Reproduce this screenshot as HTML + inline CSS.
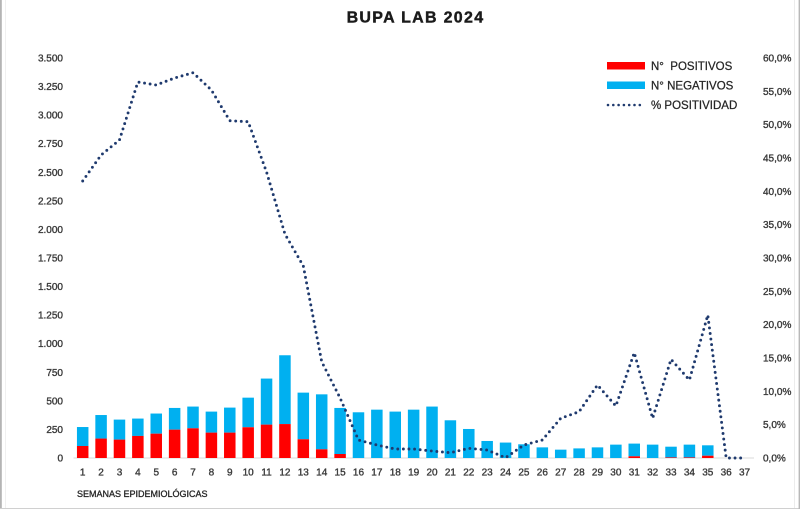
<!DOCTYPE html>
<html>
<head>
<meta charset="utf-8">
<style>
html,body{margin:0;padding:0;background:#fff;}
svg{display:block;}
text{font-family:"Liberation Sans",Arial,sans-serif;}
</style>
</head>
<body>
<svg width="800" height="511" viewBox="0 0 800 511" xmlns="http://www.w3.org/2000/svg">
<rect x="0" y="0" width="800" height="511" fill="#fff"/>
<!-- frame -->
<rect x="0" y="0" width="1.8" height="509" fill="#b4b4b4"/>
<line x1="5.5" y1="0" x2="5.5" y2="508" stroke="#f0f0f0" stroke-width="1"/>
<line x1="0" y1="508.5" x2="800" y2="508.5" stroke="#d0d0d0" stroke-width="1"/>
<line x1="794.5" y1="0" x2="794.5" y2="508" stroke="#ececec" stroke-width="1"/>
<line x1="799.3" y1="0" x2="799.3" y2="509" stroke="#b8b8b8" stroke-width="1.4"/>

<!-- title -->
<text x="415.5" y="22.5" text-anchor="middle" font-size="16" font-weight="bold" letter-spacing="1.3" fill="#1a1a1a" stroke="#1a1a1a" stroke-width="0.4">BUPA LAB 2024</text>

<!-- left axis labels -->
<g font-size="10" fill="#3a3a3a" stroke="#3a3a3a" stroke-width="0.35" text-anchor="end">
<text x="63" y="461.5">0</text>
<text x="63" y="432.9">250</text>
<text x="63" y="404.4">500</text>
<text x="63" y="375.8">750</text>
<text x="63" y="347.2">1.000</text>
<text x="63" y="318.6">1.250</text>
<text x="63" y="290.1">1.500</text>
<text x="63" y="261.5">1.750</text>
<text x="63" y="232.9">2.000</text>
<text x="63" y="204.4">2.250</text>
<text x="63" y="175.8">2.500</text>
<text x="63" y="147.2">2.750</text>
<text x="63" y="118.6">3.000</text>
<text x="63" y="90.1">3.250</text>
<text x="63" y="61.5">3.500</text>
</g>

<!-- right axis labels -->
<g font-size="10" fill="#3a3a3a" stroke="#3a3a3a" stroke-width="0.35" text-anchor="start">
<text x="763" y="461.5">0,0%</text>
<text x="763" y="428.2">5,0%</text>
<text x="763" y="394.8">10,0%</text>
<text x="763" y="361.5">15,0%</text>
<text x="763" y="328.2">20,0%</text>
<text x="763" y="294.8">25,0%</text>
<text x="763" y="261.5">30,0%</text>
<text x="763" y="228.2">35,0%</text>
<text x="763" y="194.8">40,0%</text>
<text x="763" y="161.5">45,0%</text>
<text x="763" y="128.2">50,0%</text>
<text x="763" y="94.8">55,0%</text>
<text x="763" y="61.5">60,0%</text>
</g>

<!-- baseline -->
<line x1="73.5" y1="458" x2="754" y2="458" stroke="#d9d9d9" stroke-width="1"/>

<!-- bars -->
<g id="bars"></g>
<g id="xl" font-size="10" fill="#3a3a3a" stroke="#3a3a3a" stroke-width="0.35" text-anchor="middle"></g>

<!-- line -->
<polyline id="pline" fill="none" stroke="#1f3a6e" stroke-width="2.9" stroke-linecap="round" stroke-linejoin="round" stroke-dasharray="0 5.6" points=""/>

<!-- legend -->
<rect x="607" y="62" width="38" height="7.5" fill="#ff0000"/>
<text x="651" y="70" font-size="11.5" fill="#262626" stroke="#262626" stroke-width="0.25">N°&#160;&#160;POSITIVOS</text>
<rect x="607" y="81.5" width="38" height="7.5" fill="#00b0f0"/>
<text x="651" y="89.5" font-size="11.5" fill="#262626" stroke="#262626" stroke-width="0.25">N° NEGATIVOS</text>
<line x1="608" y1="105" x2="645" y2="105" stroke="#1f3a6e" stroke-width="2.6" stroke-linecap="round" stroke-dasharray="0 5.3"/>
<text x="651" y="109" font-size="11.5" fill="#262626" stroke="#262626" stroke-width="0.25">% POSITIVIDAD</text>

<!-- x axis title -->
<text x="77" y="497" font-size="9" fill="#262626" stroke="#262626" stroke-width="0.3">SEMANAS EPIDEMIOLÓGICAS</text>

<script>
(function(){
var NS="http://www.w3.org/2000/svg";
var pos=[105,170,161,193,213,248,260,222,222,269,292,297,164,76,35,0,0,0,0,0,0,0,0,0,0,0,0,0,0,0,15,0,5,5,20,0,0];
var tot=[271,376,336,345,389,438,450,406,441,528,695,899,572,557,438,400,423,406,423,450,330,254,149,135,120,93,73,84,93,117,126,117,99,117,111,0,0];
var ly=[181,155,140,82,85,78,72.7,90,120.7,121.7,172,234,266,361.7,398,440,445,449,449,451,452.7,448.3,450,457.7,445,440,418.3,411.7,385,406,352.7,418.3,359.3,380,315,458,458];
var k=400/3500, base=458, x0=82.7, dx=18.385, bw=11.5;
var g=document.getElementById("bars"), xl=document.getElementById("xl");
var pts=[];
for(var i=0;i<37;i++){
  var cx=x0+i*dx;
  if(tot[i]>0){
    var neg=tot[i]-pos[i];
    var hp=pos[i]*k, hn=neg*k;
    var r1=document.createElementNS(NS,"rect");
    r1.setAttribute("x",(cx-bw/2).toFixed(2));
    r1.setAttribute("y",(base-hp-hn).toFixed(2));
    r1.setAttribute("width",bw);
    r1.setAttribute("height",hn.toFixed(2));
    r1.setAttribute("fill","#00b0f0");
    g.appendChild(r1);
    if(hp>0){
      var r2=document.createElementNS(NS,"rect");
      r2.setAttribute("x",(cx-bw/2).toFixed(2));
      r2.setAttribute("y",(base-hp).toFixed(2));
      r2.setAttribute("width",bw);
      r2.setAttribute("height",hp.toFixed(2));
      r2.setAttribute("fill","#ff0000");
      g.appendChild(r2);
    }
  }
  var t=document.createElementNS(NS,"text");
  t.setAttribute("x",cx.toFixed(2));
  t.setAttribute("y","475.5");
  t.textContent=String(i+1);
  xl.appendChild(t);
  pts.push(cx.toFixed(2)+","+ly[i]);
}
document.getElementById("pline").setAttribute("points",pts.join(" "));
})();
</script>
</svg>
</body>
</html>
